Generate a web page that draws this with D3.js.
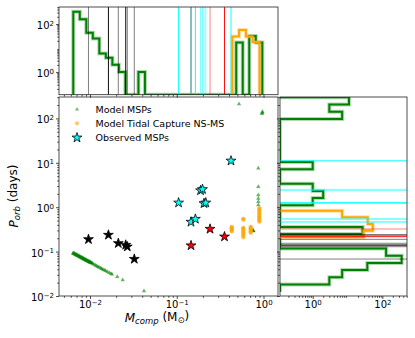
<!DOCTYPE html>
<html>
<head>
<meta charset="utf-8">
<script src="https://cdn.jsdelivr.net/npm/d3@7/dist/d3.min.js"></script>
<style>
  body { margin: 0; background: #fff; }
  svg text { font-family: "DejaVu Sans", sans-serif; fill: #000; }
</style>
</head>
<body>
<div id="chart"></div>
<script>
// ---- data ----
// model MSPs (companion mass in Msun, orbital period in days)
const modelMcomp = [0.00637, 0.00650, 0.00661, 0.00672, 0.00684, 0.00696, 0.00708, 0.00720, 0.00733, 0.00746,
  0.00759, 0.00772, 0.00785, 0.00800, 0.00813, 0.00828, 0.00841, 0.00856, 0.00871, 0.00886, 0.00902,
  0.00918, 0.00933, 0.00950, 0.00966, 0.00983, 0.0100, 0.0102, 0.0104, 0.0107, 0.0111, 0.0115, 0.0119,
  0.0123, 0.0127, 0.0132, 0.0136, 0.0141, 0.0146, 0.0151, 0.0158, 0.0166, 0.0174, 0.0179,
  0.00645, 0.00667, 0.00690, 0.00714, 0.00740, 0.00765, 0.00792, 0.00820, 0.00849, 0.00880, 0.00910,
  0.00945, 0.00975, 0.0101, 0.0105,
  0.0206, 0.0238, 0.0419,
  0.522, 0.968, 0.960, 0.972, 0.871, 0.871, 0.871, 0.871, 0.871, 0.871, 0.760, 0.765, 0.755];
const modelPorb = [0.0916, 0.0898, 0.0881, 0.0866, 0.0849, 0.0834, 0.0818, 0.0803, 0.0791, 0.0776,
  0.0762, 0.0749, 0.0735, 0.0721, 0.0708, 0.0696, 0.0684, 0.0671, 0.0659, 0.0647, 0.0635,
  0.0623, 0.0612, 0.0602, 0.0592, 0.0581, 0.0570, 0.0560, 0.0550, 0.0531, 0.0512, 0.0493, 0.0475,
  0.0458, 0.0443, 0.0427, 0.0411, 0.0396, 0.0383, 0.0369, 0.0352, 0.0335, 0.0319, 0.0308,
  0.0935, 0.0900, 0.0868, 0.0838, 0.0806, 0.0780, 0.0752, 0.0724, 0.0699, 0.0673, 0.0650,
  0.0626, 0.0606, 0.0584, 0.0563,
  0.0272, 0.0229, 0.0130,
  211, 134, 128, 141, 7.5, 2.9, 1.88, 1.58, 1.33, 1.12, 0.296, 0.290, 0.302];

// model tidal capture NS-MS
const tidalMcomp = [0.43, 0.43, 0.43, 0.43, 0.43, 0.43,
  0.585, 0.585, 0.585, 0.585, 0.585, 0.585, 0.585, 0.585, 0.585, 0.585,
  0.712, 0.712, 0.712, 0.712, 0.712, 0.712, 0.712,
  0.895, 0.895, 0.895, 0.895, 0.895, 0.895, 0.895, 0.895, 0.895, 0.895, 0.895];
const tidalPorb = [0.36, 0.345, 0.33, 0.315, 0.30, 0.285,
  0.55, 0.52, 0.345, 0.33, 0.31, 0.29, 0.27, 0.25, 0.23, 0.21,
  0.36, 0.345, 0.33, 0.315, 0.30, 0.28, 0.265,
  0.96, 0.90, 0.84, 0.78, 0.72, 0.67, 0.62, 0.58, 0.54, 0.50, 0.47];

// observed MSPs
const obsMcomp = [0.0096, 0.0163, 0.0212, 0.0258, 0.0269, 0.0324, 0.146, 0.242, 0.355,
  0.105, 0.146, 0.164, 0.188, 0.198, 0.206, 0.216, 0.422];
const obsPorb = [0.189, 0.237, 0.154, 0.141, 0.129, 0.068, 0.137, 0.323, 0.217,
  1.26, 0.465, 0.542, 2.38, 2.53, 1.22, 1.26, 11.1];
const obsKind = ['BW', 'BW', 'BW', 'BW', 'BW', 'BW', 'RB', 'RB', 'RB',
  'MSP', 'MSP', 'MSP', 'MSP', 'MSP', 'MSP', 'MSP', 'MSP'];
const obsFaint = [1, 0, 1, 0, 1, 1, 0, 1, 0, 0, 0, 0, 1, 1, 1, 1, 0];

// histograms (log-spaced bins)
const mHistGreenRange = [0.00641, 0.968];
const mHistGreen = [325, 156, 43, 25, 6, 4, 2, 1, 0, 0, 1, 0, 0, 0, 0, 0, 0, 0, 0, 0, 0, 0, 0, 0, 0, 17, 0, 32, 17];
const mHistOrangeRange = [0.4365, 0.899];
const mHistOrange = [30, 56, 30, 18];
const pHistGreenRange = [0.0125, 298.5];
const pHistGreen = [0, 3, 7, 37, 358, 128, 0, 0, 27, 0, 0, 0, 1, 2, 1, 0, 0, 1, 0, 0, 0, 0, 0, 0, 7, 3, 11];
const pHistOrangeRange = [0.21, 0.834];
const pHistOrange = [29, 53, 38, 7];

const mainXTicks = [0.01, 0.1, 1];
const mainYTicks = [0.01, 0.1, 1, 10, 100];
const histTicks = [1, 100];
const legendLabels = ['Model MSPs', 'Model Tidal Capture NS-MS', 'Observed MSPs'];

// ---- layout ----
const main = {x0: 59, x1: 278, y0: 97, y1: 296};
const topP = {x0: 59, x1: 278, y0: 7, y1: 94.7};
const side = {x0: 280, x1: 407, y0: 97, y1: 296};
const kindColor = {BW: '#000000', RB: '#ff0000', MSP: '#00ffff'};
const starSize = 30;

const svg = d3.select('#chart').append('svg')
  .attr('width', 415)
  .attr('height', 338);

const x = d3.scaleLog().domain([0.00439, 1.469]).range([main.x0, main.x1]);
const y = d3.scaleLog().domain([0.01, 303.6]).range([main.y1, main.y0]);
const cTop = d3.scaleLog().domain([0.115, 510]).range([topP.y1, topP.y0]);
const cSide = d3.scaleLog().domain([0.115, 510]).range([side.x0, side.x1]);

const defs = svg.append('defs');
function addClip(id, r) {
  defs.append('clipPath').attr('id', id)
    .append('rect')
      .attr('x', r.x0).attr('y', r.y0)
      .attr('width', r.x1 - r.x0).attr('height', r.y1 - r.y0);
}
addClip('clipMain', main);
addClip('clipTop', topP);
addClip('clipSide', side);

function minorTicks(lo, hi) {
  const out = [];
  for (let e = Math.floor(Math.log10(lo)); e <= Math.ceil(Math.log10(hi)); e++) {
    for (let k = 2; k <= 9; k++) {
      const v = k * Math.pow(10, e);
      if (v >= lo && v <= hi) out.push(v);
    }
  }
  return out;
}

function logEdges(range, n) {
  const a = Math.log10(range[0]), b = Math.log10(range[1]);
  return d3.range(n + 1).map(i => Math.pow(10, a + (b - a) * i / n));
}

function supLabels(sel, size) {
  sel.selectAll('.tick text').each(function(d) {
    const t = d3.select(this);
    const e = Math.round(Math.log10(d));
    t.text('');
    t.append('tspan').text('10');
    t.append('tspan')
      .attr('dy', '-0.5em')
      .style('font-size', size + 'px')
      .text(e < 0 ? '\u2212' + (-e) : String(e));
  });
}

function drawAxis(g, axisFn, scale, major, minor, labels) {
  const maj = g.append('g').call(axisFn(scale).tickValues(major).tickSize(3).tickPadding(2)
    .tickFormat(labels ? d => d : () => ''));
  const mnr = g.append('g').call(axisFn(scale).tickValues(minor).tickSize(1.8).tickFormat(() => ''));
  [maj, mnr].forEach(s => {
    s.select('.domain').remove();
    s.selectAll('line').attr('stroke', '#000').attr('stroke-width', 0.7);
  });
  maj.selectAll('text').style('font-size', '10px').attr('fill', '#000');
  if (labels) supLabels(maj, 7);
  return maj;
}

// ---- main axes ----
const gMain = svg.append('g');
const plot = gMain.append('g').attr('clip-path', 'url(#clipMain)');

plot.selectAll('.model')
  .data(modelMcomp)
  .enter()
  .append('path')
    .attr('class', 'model')
    .attr('d', d3.symbol(d3.symbolTriangle, 8))
    .attr('transform', (d, i) => 'translate(' + x(d) + ',' + y(modelPorb[i]) + ')')
    .attr('fill', '#008000')
    .attr('fill-opacity', 0.6);

plot.selectAll('.tidal')
  .data(tidalMcomp)
  .enter()
  .append('circle')
    .attr('class', 'tidal')
    .attr('cx', d => x(d))
    .attr('cy', (d, i) => y(tidalPorb[i]))
    .attr('r', 2.1)
    .attr('fill', '#ffa500')
    .attr('fill-opacity', 0.7);

plot.selectAll('.obs')
  .data(obsMcomp)
  .enter()
  .append('path')
    .attr('class', 'obs')
    .attr('d', d3.symbol(d3.symbolStar, starSize))
    .attr('transform', (d, i) => 'translate(' + x(d) + ',' + y(obsPorb[i]) + ')')
    .attr('fill', (d, i) => kindColor[obsKind[i]])
    .attr('stroke', '#000')
    .attr('stroke-width', 0.8);

drawAxis(gMain.append('g').attr('transform', 'translate(0,' + main.y1 + ')'),
  d3.axisBottom, x, mainXTicks, minorTicks(x.domain()[0], x.domain()[1]), true);
const yAx = drawAxis(gMain.append('g').attr('transform', 'translate(' + main.x0 + ',0)'),
  d3.axisLeft, y, mainYTicks, minorTicks(y.domain()[0], y.domain()[1]), true);
yAx.selectAll('text').attr('dy', '0.45em');

gMain.append('rect')
  .attr('x', main.x0).attr('y', main.y0)
  .attr('width', main.x1 - main.x0).attr('height', main.y1 - main.y0)
  .attr('fill', 'none').attr('stroke', '#222').attr('stroke-width', 0.8);

// legend
const legend = gMain.append('g');
const legY = [109.3, 123.3, 137.7];
legend.append('path')
  .attr('d', d3.symbol(d3.symbolTriangle, 7))
  .attr('transform', 'translate(77,' + legY[0] + ')')
  .attr('fill', '#008000').attr('fill-opacity', 0.55);
legend.append('circle')
  .attr('cx', 77).attr('cy', legY[1]).attr('r', 2.1)
  .attr('fill', '#ffa500').attr('fill-opacity', 0.6);
legend.append('path')
  .attr('d', d3.symbol(d3.symbolStar, starSize))
  .attr('transform', 'translate(77,' + legY[2] + ')')
  .attr('fill', '#00ffff').attr('stroke', '#000').attr('stroke-width', 0.8);
legend.selectAll('text')
  .data(legendLabels)
  .enter()
  .append('text')
    .attr('x', 95.5)
    .attr('y', (d, i) => legY[i])
    .attr('dy', '0.35em')
    .style('font-size', '9.5px')
    .text(d => d);

// axis labels
const xl = svg.append('text')
  .attr('x', 157).attr('y', 322)
  .attr('text-anchor', 'middle')
  .style('font-size', '12px');
xl.append('tspan').style('font-style', 'italic').text('M');
xl.append('tspan').style('font-style', 'italic').style('font-size', '8.5px').attr('dy', '0.25em').text('comp');
xl.append('tspan').attr('dy', '-0.25em').text(' (M');
xl.append('tspan').style('font-size', '8.5px').attr('dy', '0.25em').text('\u2299');
xl.append('tspan').attr('dy', '-0.25em').text(')');

const yl = svg.append('text')
  .attr('transform', 'translate(18,196) rotate(-90)')
  .attr('text-anchor', 'middle')
  .style('font-size', '12px');
yl.append('tspan').style('font-style', 'italic').text('P');
yl.append('tspan').style('font-style', 'italic').style('font-size', '8.5px').attr('dy', '0.25em').text('orb');
yl.append('tspan').attr('dy', '-0.25em').text(' (days)');

// ---- top histogram (companion mass) ----
const gTop = svg.append('g');
const topPlot = gTop.append('g').attr('clip-path', 'url(#clipTop)');

function stepTopPath(range, counts) {
  const e = logEdges(range, counts.length);
  const cy = c => c > 0 ? cTop(c) : topP.y1;
  const pts = [[x(e[0]), topP.y1]];
  counts.forEach((c, i) => {
    pts.push([x(e[i]), cy(c)]);
    pts.push([x(e[i + 1]), cy(c)]);
  });
  pts.push([x(e[counts.length]), topP.y1]);
  return d3.line()(pts);
}

function drawHist(g, d, color) {
  g.append('path').attr('d', d).attr('fill', 'none')
    .attr('stroke', color).attr('stroke-opacity', 0.3).attr('stroke-width', 4);
  g.append('path').attr('d', d).attr('fill', 'none')
    .attr('stroke', color).attr('stroke-width', 2);
}

drawHist(topPlot, stepTopPath(mHistGreenRange, mHistGreen), '#008000');
drawHist(topPlot, stepTopPath(mHistOrangeRange, mHistOrange), '#ffa500');

topPlot.selectAll('.vline')
  .data(obsMcomp)
  .enter()
  .append('line')
    .attr('class', 'vline')
    .attr('x1', d => x(d)).attr('x2', d => x(d))
    .attr('y1', topP.y0).attr('y2', topP.y1)
    .attr('stroke', (d, i) => kindColor[obsKind[i]])
    .attr('stroke-opacity', (d, i) => obsFaint[i] ? 0.5 : 0.95)
    .attr('stroke-width', 1);

drawAxis(gTop.append('g').attr('transform', 'translate(0,' + topP.y1 + ')'),
  d3.axisBottom, x, mainXTicks, minorTicks(x.domain()[0], x.domain()[1]), false);
const tAx = drawAxis(gTop.append('g').attr('transform', 'translate(' + topP.x0 + ',0)'),
  d3.axisLeft, cTop, histTicks, minorTicks(0.115, 510), true);
tAx.selectAll('text').attr('dy', '0.45em');

gTop.append('rect')
  .attr('x', topP.x0).attr('y', topP.y0)
  .attr('width', topP.x1 - topP.x0).attr('height', topP.y1 - topP.y0)
  .attr('fill', 'none').attr('stroke', '#222').attr('stroke-width', 0.8);

// ---- side histogram (orbital period) ----
const gSide = svg.append('g');
const sidePlot = gSide.append('g').attr('clip-path', 'url(#clipSide)');

function stepSidePath(range, counts) {
  const e = logEdges(range, counts.length);
  const cx = c => c > 0 ? cSide(c) : side.x0;
  const pts = [[side.x0, y(e[0])]];
  counts.forEach((c, i) => {
    pts.push([cx(c), y(e[i])]);
    pts.push([cx(c), y(e[i + 1])]);
  });
  pts.push([side.x0, y(e[counts.length])]);
  return d3.line()(pts);
}

drawHist(sidePlot, stepSidePath(pHistGreenRange, pHistGreen), '#008000');
drawHist(sidePlot, stepSidePath(pHistOrangeRange, pHistOrange), '#ffa500');

sidePlot.selectAll('.hline')
  .data(obsPorb)
  .enter()
  .append('line')
    .attr('class', 'hline')
    .attr('x1', side.x0).attr('x2', side.x1)
    .attr('y1', d => y(d)).attr('y2', d => y(d))
    .attr('stroke', (d, i) => kindColor[obsKind[i]])
    .attr('stroke-opacity', (d, i) => obsFaint[i] ? 0.5 : 0.95)
    .attr('stroke-width', 1);

drawAxis(gSide.append('g').attr('transform', 'translate(0,' + side.y1 + ')'),
  d3.axisBottom, cSide, histTicks, minorTicks(0.115, 510), true);
drawAxis(gSide.append('g').attr('transform', 'translate(' + side.x0 + ',0)'),
  d3.axisLeft, y, mainYTicks, minorTicks(y.domain()[0], y.domain()[1]), false);

gSide.append('rect')
  .attr('x', side.x0).attr('y', side.y0)
  .attr('width', side.x1 - side.x0).attr('height', side.y1 - side.y0)
  .attr('fill', 'none').attr('stroke', '#222').attr('stroke-width', 0.8);
</script>
</body>
</html>
